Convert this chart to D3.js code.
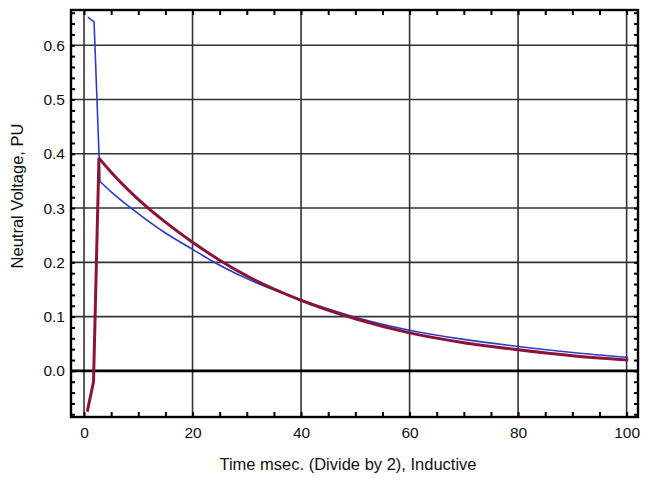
<!DOCTYPE html>
<html lang="en">
<head>
    <meta charset="UTF-8">
    <title>Neutral Voltage</title>
    <script src="https://cdn.jsdelivr.net/npm/d3@7"></script>
    <style>
        body { margin: 0; background: #fff; }
        text { font-family: "Liberation Sans", Arial, sans-serif; fill: #111; }
    </style>
</head>
<body>
<script>
    // values
    const blueX = [0.7, 1.85, 2.95, 5, 8.8, 15, 20, 23.5, 30, 40, 50, 60, 70, 80, 90, 100.3]
    const blueY = [0.652, 0.643, 0.349, 0.330, 0.299, 0.254, 0.224, 0.203, 0.170, 0.131, 0.099, 0.075, 0.058, 0.045, 0.034, 0.025]
    const redX = [0.6, 1.75, 2.75, 5, 10, 15, 20, 25, 30, 40, 50, 60, 70, 80, 90, 100.3]
    const redY = [-0.075, -0.02, 0.392, 0.366, 0.316, 0.274, 0.237, 0.204, 0.175, 0.130, 0.096, 0.070, 0.052, 0.039, 0.028, 0.020]
    const xTicks = [0, 20, 40, 60, 80, 100]
    const yTicks = [0.0, 0.1, 0.2, 0.3, 0.4, 0.5, 0.6]
    const xMinor = d3.range(0, 101, 5)
    const yMinor = d3.range(-8, 67, 2).map(d => d / 100)

    const [width, height] = [646, 478]
    const frame = {left: 71, top: 10, right: 638, bottom: 417}

    const x = d3.scaleLinear().domain([-2.4, 102.1]).range([frame.left, frame.right])
    const y = d3.scaleLinear().domain([-0.085, 0.665]).range([frame.bottom, frame.top])

    const svg = d3.select('body').append('svg')
        .attr('width', width)
        .attr('height', height)

    // grid
    svg.append('g').selectAll('line').data(xTicks).enter().append('line')
        .attr('x1', d => x(d)).attr('x2', d => x(d))
        .attr('y1', frame.top).attr('y2', frame.bottom)
        .attr('stroke', '#333').attr('stroke-width', 1.6)
    svg.append('g').selectAll('line').data(yTicks).enter().append('line')
        .attr('x1', frame.left).attr('x2', frame.right)
        .attr('y1', d => y(d)).attr('y2', d => y(d))
        .attr('stroke', d => d === 0 ? '#000' : '#333')
        .attr('stroke-width', d => d === 0 ? 2.6 : 1.6)

    // inward minor ticks on all four sides
    const tick = (g, axis) => {
        g.call(axis)
        g.select('.domain').remove()
        g.selectAll('line').attr('stroke', '#000').attr('stroke-width', 2)
    }
    svg.append('g').attr('transform', `translate(0,${frame.bottom})`)
        .call(g => tick(g, d3.axisBottom(x).tickValues(xMinor).tickSize(-5).tickFormat('')))
    svg.append('g').attr('transform', `translate(0,${frame.top})`)
        .call(g => tick(g, d3.axisTop(x).tickValues(xMinor).tickSize(-5).tickFormat('')))
    svg.append('g').attr('transform', `translate(${frame.left},0)`)
        .call(g => tick(g, d3.axisLeft(y).tickValues(yMinor).tickSize(-4).tickFormat('')))
    svg.append('g').attr('transform', `translate(${frame.right},0)`)
        .call(g => tick(g, d3.axisRight(y).tickValues(yMinor).tickSize(-4).tickFormat('')))

    // tick labels
    const xAxis = svg.append('g').attr('transform', `translate(0,${frame.bottom})`)
        .call(d3.axisBottom(x).tickValues(xTicks).tickSize(0).tickPadding(10).tickFormat(d3.format('d')))
    xAxis.select('.domain').remove()
    xAxis.selectAll('text').attr('font-size', 15.5).attr('fill', '#111')
    const yAxis = svg.append('g').attr('transform', `translate(${frame.left},0)`)
        .call(d3.axisLeft(y).tickValues(yTicks).tickSize(0).tickPadding(6).tickFormat(d3.format('.1f')))
    yAxis.select('.domain').remove()
    yAxis.selectAll('text').attr('font-size', 15.5).attr('fill', '#111')

    // curves: sharp rise drawn straight, decay drawn smooth
    const rise = d3.line().x(d => x(d[0])).y(d => y(d[1]))
    const decay = d3.line().x(d => x(d[0])).y(d => y(d[1])).curve(d3.curveMonotoneX)
    const draw = (pts, color, w) => {
        const g = svg.append('g')
            .attr('fill', 'none')
            .attr('stroke', color)
            .attr('stroke-width', w)
            .attr('stroke-linejoin', 'round')
        g.append('path').attr('d', rise(pts.slice(0, 3)))
        g.append('path').attr('d', decay(pts.slice(2)))
    }
    draw(d3.zip(blueX, blueY), '#2c3cc8', 1.6)
    draw(d3.zip(redX, redY), '#8a1438', 3)

    // frame
    svg.append('rect')
        .attr('x', frame.left).attr('y', frame.top)
        .attr('width', frame.right - frame.left).attr('height', frame.bottom - frame.top)
        .attr('fill', 'none').attr('stroke', '#000').attr('stroke-width', 2.4)

    // titles
    svg.append('text')
        .attr('x', 348).attr('y', 470)
        .attr('text-anchor', 'middle')
        .attr('font-size', 16.5)
        .text('Time msec. (Divide by 2), Inductive')
    svg.append('text')
        .attr('transform', 'translate(23,196) rotate(-90)')
        .attr('text-anchor', 'middle')
        .attr('font-size', 16.5)
        .text('Neutral Voltage, PU')
</script>
</body>
</html>
